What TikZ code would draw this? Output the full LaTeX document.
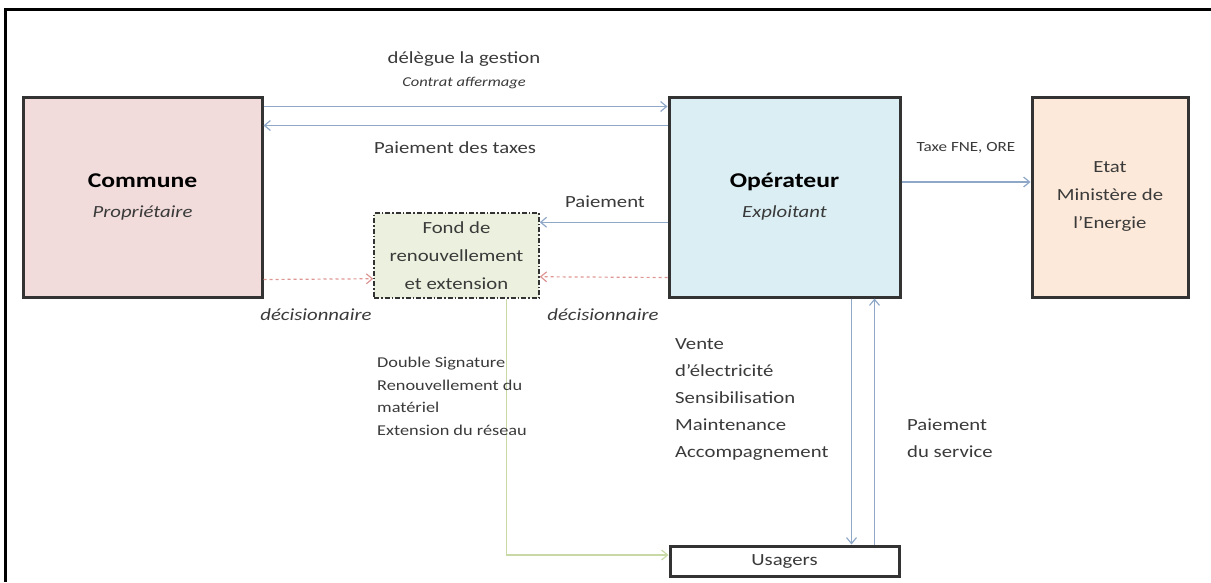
\documentclass[tikz,border=0pt]{standalone}
\usepackage{fontspec}
\setmainfont{Carlito}[FakeStretch=1.22]
\usetikzlibrary{arrows.meta,calc}
\definecolor{pinkc}{HTML}{F2DCDB}
\definecolor{bluec}{HTML}{DAEEF3}
\definecolor{peachc}{HTML}{FDE9D9}
\definecolor{greenc}{HTML}{EBF1DE}
\definecolor{boxline}{HTML}{333333}
\definecolor{arrowblue}{HTML}{8FA8C8}
\definecolor{arrowred}{HTML}{DE9694}
\definecolor{arrowgreen}{HTML}{C9D9A6}
\definecolor{txt}{HTML}{3A3A3A}
\begin{document}
\begin{tikzpicture}[x=1pt,y=-1pt,
  box/.style={draw=boxline, line width=3pt, inner sep=0pt, align=center, text=txt,
    font=\fontsize{17}{28}\selectfont},
  lbl/.style={inner sep=0pt, text=txt, font=\fontsize{17}{27}\selectfont},
  lblsmall/.style={inner sep=0pt, text=txt, font=\fontsize{13.5}{16}\selectfont},
  tip/.style={-{Straight Barb[length=6pt,width=10pt,line width=1.2pt]}},
  conn/.style={draw=arrowblue, line width=1.4pt, tip},
  decis/.style={draw=arrowred, line width=1.2pt, dashed, tip},
  fondline/.style={draw=arrowgreen, line width=1.3pt, tip}
]
\useasboundingbox (0,0) rectangle (1211,582);
\draw[line width=3pt, black] (1211,9) -- (5,9) -- (5,582);

% boxes
\node[box, fill=pinkc, minimum width=239pt, minimum height=200pt] (commune) at (142.5,197)
  {{\bfseries\fontsize{21}{21}\selectfont\color{black}Commune}\\[2pt]{\itshape Propriétaire}};
\node[box, fill=bluec, minimum width=231pt, minimum height=200pt] (op) at (784.5,197)
  {{\bfseries\fontsize{21}{21}\selectfont\color{black}Opérateur}\\[2pt]{\itshape Exploitant}};
\node[box, fill=peachc, minimum width=156pt, minimum height=200pt] (etat) at (1110,197)
  {\raisebox{-4pt}{Etat}\\\raisebox{-4pt}{Ministère de}\\\raisebox{-4pt}{l'Energie}};
\node[box, fill=greenc, line width=1.5pt, dash pattern=on 5pt off 2pt on 1.5pt off 2pt,
  minimum width=165pt, minimum height=85pt] (fond) at (456.5,255.5)
  {\raisebox{-2pt}{Fond de}\\\raisebox{-2pt}{renouvellement}\\\raisebox{-2pt}{et extension}};
\node[box, fill=white, minimum width=229pt, minimum height=30pt] (usagers) at (784.5,561)
  {Usagers};

% connectors
\draw[conn] ($(commune.north east)+(0,11)$) -- ($(op.north west)+(0,11)$);
\draw[conn] ($(op.north west)+(0,30)$) -- ($(commune.north east)+(0,30)$);
\draw[conn] ($(op.west |- fond.north)+(0,10)$) -- ($(fond.north east)+(0,10)$);
\draw[decis] ($(commune.south east)+(0,-19)$) -- ($(fond.south west)+(0,-20)$);
\draw[decis] ($(op.south west)+(0,-21)$) -- ($(fond.south east)+(0,-22)$);
\draw[conn] ($(op.east)+(0,-15)$) -- ($(etat.west)+(0,-15)$);
\coordinate (d1) at ($(op.south west)+(184,0)$);
\draw[conn] (d1) -- (d1 |- usagers.north);
\coordinate (u1) at ($(usagers.north west)+(206,0)$);
\draw[conn] (u1) -- (u1 |- op.south);
\coordinate (g1) at ($(fond.south west)+(133,0)$);
\draw[fondline] (g1) |- ($(usagers.west)+(0,-6)$);

% labels
\node[lbl] (ldel) at (464,59) {délègue la gestion};
\node[lblsmall, font=\fontsize{13.5}{16}\selectfont\itshape] (lcon) at (464,83) {Contrat affermage};
\node[lbl] (ltax) at (455,148) {Paiement des taxes};
\node[lbl] (lpai) at (605,202) {Paiement};
\node[lbl, font=\fontsize{17}{27}\selectfont\itshape] (ldec1) at (316,315) {décisionnaire};
\node[lbl, font=\fontsize{17}{27}\selectfont\itshape] (ldec2) at (603,315) {décisionnaire};
\node[lblsmall, font=\fontsize{14}{16}\selectfont] (ltaxe) at (966,148) {Taxe FNE, ORE};
\node[lbl, font=\fontsize{15}{22.5}\selectfont, align=left, anchor=north west] (ldbl) at (377,357)
  {Double Signature\\Renouvellement du\\matériel\\Extension du réseau};
\node[lbl, align=left, anchor=north west] (lvente) at (675,338)
  {Vente\\d'électricité\\Sensibilisation\\Maintenance\\Accompagnement};
\node[lbl, align=left, anchor=north west] (lpserv) at (907,419)
  {Paiement\\du service};
\end{tikzpicture}
\end{document}
